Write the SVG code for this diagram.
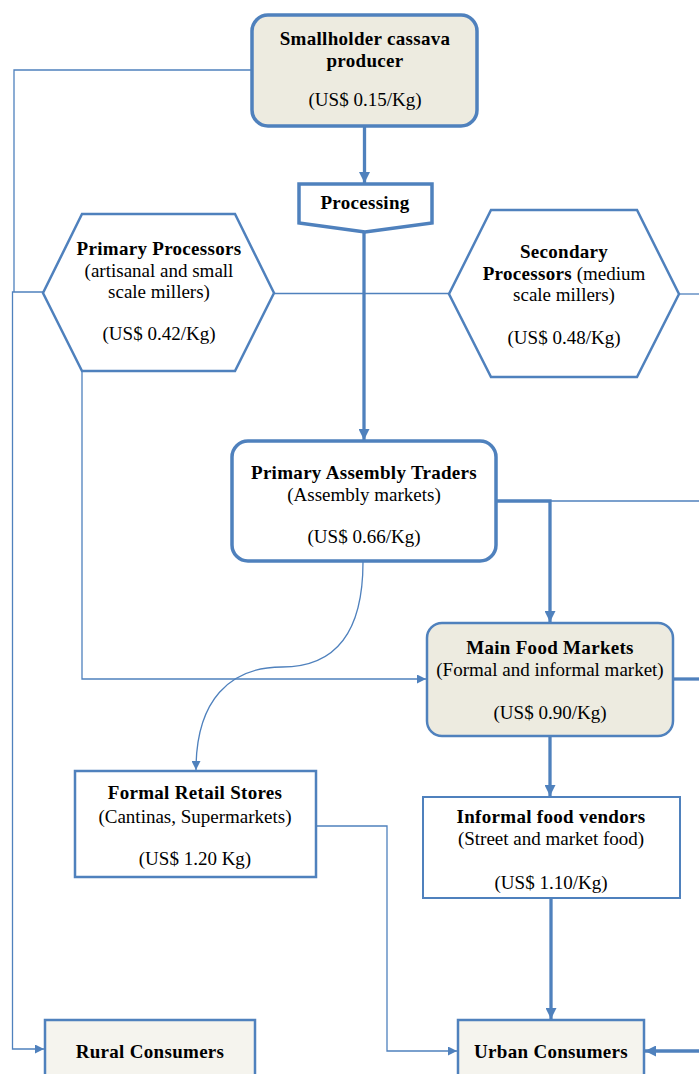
<svg xmlns="http://www.w3.org/2000/svg" width="699" height="1074" viewBox="0 0 699 1074">
<defs>
<style>
.tan{fill:#EDEBE0}
.lt{fill:#F5F4EE}
.wh{fill:#FFFFFF}
text{font-family:"Liberation Serif","Times New Roman",serif;font-size:19px;fill:#000;text-anchor:middle}
.bd{font-weight:bold;letter-spacing:0.3px}
.thin{fill:none;stroke:#4F81BD;stroke-width:1.3}
.thick{fill:none;stroke:#4F81BD;stroke-width:3.3}
</style>
<marker id="as" viewBox="0 0 10 10" refX="10" refY="5" markerWidth="9" markerHeight="9" markerUnits="userSpaceOnUse" orient="auto"><path d="M0,0 L10,5 L0,10 z" fill="#4F81BD"/></marker>
<marker id="al" viewBox="0 0 10 10" refX="10" refY="5" markerWidth="11" markerHeight="11" markerUnits="userSpaceOnUse" orient="auto"><path d="M0,0 L10,5 L0,10 z" fill="#4F81BD"/></marker>
</defs>

<g id="connectors">
<path class="thick" d="M364.5,127 V183" marker-end="url(#al)"/>
<path class="thick" d="M364,233 V440" marker-end="url(#al)"/>
<path class="thin" d="M252,70 H14 V292"/>
<path class="thin" d="M43,292 H12.5 V1049 H44" marker-end="url(#as)"/>
<path class="thin" d="M274,293.5 H449"/>
<path class="thin" d="M679,294 H699"/>
<path class="thin" d="M82,371 V679 H426" marker-end="url(#as)"/>
<path class="thick" d="M497,501 H550 V622" marker-end="url(#al)"/>
<path class="thin" d="M550,501 H699"/>
<path class="thin" d="M363,562 C363,640 330,667 282,667 C230,667 196,700 196,770" marker-end="url(#as)"/>
<path class="thick" d="M673,679 H699"/>
<path class="thick" d="M550,737 V796" marker-end="url(#al)"/>
<path class="thin" d="M316,826 H387 V1051 H457" marker-end="url(#as)"/>
<path class="thick" d="M551,898 V1019" marker-end="url(#al)"/>
<path class="thick" d="M699,1051 H645" marker-end="url(#al)"/>
</g>

<g id="producer">
<rect x="252" y="15" width="225" height="111" rx="16" class="tan" stroke="#4F81BD" stroke-width="3.5"/>
<text x="365" y="45" class="bd">Smallholder cassava</text>
<text x="365" y="67" class="bd">producer</text>
<text x="365" y="106">(US$ 0.15/Kg)</text>
</g>

<g id="processing">
<path d="M299,184 H432 V223 L365,232 L299,223 Z" class="wh" stroke="#4F81BD" stroke-width="3.5"/>
<text x="365" y="209" class="bd">Processing</text>
</g>

<g id="primary-processors">
<path d="M82,214 H235 L274,293 L235,371 H82 L43,293 Z" class="wh" stroke="#4F81BD" stroke-width="2.5"/>
<text x="159" y="255" class="bd">Primary  Processors</text>
<text x="159" y="277">(artisanal and small</text>
<text x="159" y="298">scale millers)</text>
<text x="159" y="340">(US$ 0.42/Kg)</text>
</g>

<g id="secondary-processors">
<path d="M491,210 H637 L679,294 L637,377 H491 L449,294 Z" class="wh" stroke="#4F81BD" stroke-width="2.5"/>
<text x="564" y="258" class="bd">Secondary</text>
<text x="564" y="280"><tspan class="bd">Processors</tspan> (medium</text>
<text x="564" y="301">scale millers)</text>
<text x="564" y="344">(US$ 0.48/Kg)</text>
</g>

<g id="assembly-traders">
<rect x="232" y="441" width="264" height="120" rx="16" class="wh" stroke="#4F81BD" stroke-width="3.5"/>
<text x="364" y="479" class="bd">Primary  Assembly Traders</text>
<text x="364" y="501">(Assembly markets)</text>
<text x="364" y="543">(US$ 0.66/Kg)</text>
</g>

<g id="main-food-markets">
<rect x="427" y="623" width="246" height="113" rx="15" class="tan" stroke="#4F81BD" stroke-width="2.5"/>
<text x="550" y="654" class="bd">Main Food Markets</text>
<text x="550" y="676">(Formal and informal market)</text>
<text x="550" y="719">(US$ 0.90/Kg)</text>
</g>

<g id="formal-retail">
<rect x="75" y="771" width="241" height="106" class="wh" stroke="#4F81BD" stroke-width="2.5"/>
<text x="195" y="799" class="bd">Formal Retail Stores</text>
<text x="195" y="823">(Cantinas, Supermarkets)</text>
<text x="195" y="865">(US$ 1.20 Kg)</text>
</g>

<g id="informal-vendors">
<rect x="423" y="797" width="257" height="101" class="wh" stroke="#4F81BD" stroke-width="2"/>
<text x="551" y="823" class="bd">Informal food vendors</text>
<text x="551" y="845">(Street and market food)</text>
<text x="551" y="889">(US$ 1.10/Kg)</text>
</g>

<g id="rural-consumers">
<rect x="45" y="1020" width="210" height="70" class="lt" stroke="#4F81BD" stroke-width="2.5"/>
<text x="150" y="1058" class="bd">Rural Consumers</text>
</g>

<g id="urban-consumers">
<rect x="458" y="1020" width="186" height="70" class="lt" stroke="#4F81BD" stroke-width="2.5"/>
<text x="551" y="1058" class="bd">Urban Consumers</text>
</g>
</svg>
